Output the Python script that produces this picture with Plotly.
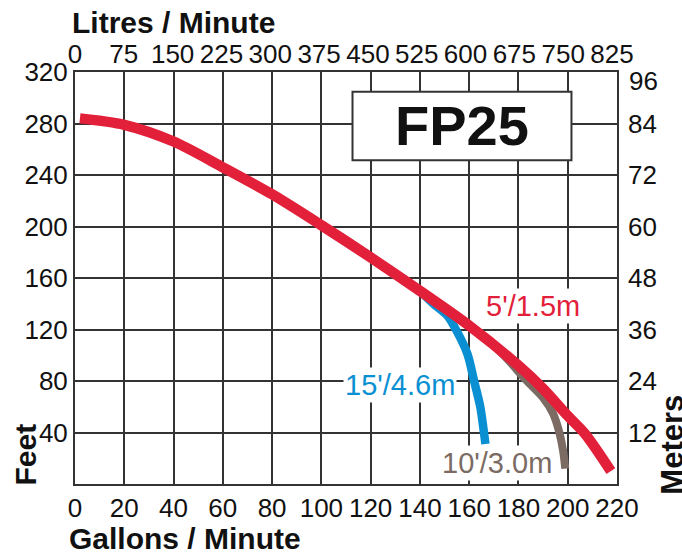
import plotly.graph_objects as go

# ---- data ----
gpm_ticks = list(range(0, 221, 20))          # Gallons / Minute (bottom)
lpm_ticks = list(range(0, 826, 75))          # Litres / Minute (top)
feet_ticks = list(range(40, 321, 40))        # Feet (left)
meter_ticks = list(range(12, 97, 12))        # Meters (right)
LITRES_PER_GALLON = 3.785

# 5'/1.5m curve
red_gpm = [2, 20, 40, 60, 80, 100, 120, 140, 160, 180, 190, 200, 207, 217.5]
red_ft = [284, 279, 266, 246, 225, 201, 176, 150, 123, 92, 74, 53, 39, 10]

# 15'/4.6m curve
blue_gpm = [140, 145.5, 151, 154.6, 159.3, 162, 164.5, 166, 166.6]
blue_ft = [150, 140, 131, 120, 101, 80, 60, 40, 31]

# 10'/3.0m curve
brown_gpm = [167, 172, 177, 181, 185, 190, 194, 196.6, 198.2, 199]
brown_ft = [113, 104, 94, 85, 77, 67, 55, 40, 25, 12]

RED = "#E3203A"
BLUE = "#0A90D2"
BROWN = "#7B6B63"
GRID = "#333333"

FONT = "Liberation Sans, Arial, sans-serif"

fig = go.Figure()
fig.add_trace(go.Scatter(x=blue_gpm, y=blue_ft, mode="lines",
                         line=dict(color=BLUE, width=8.5, shape="spline", smoothing=0.8),
                         hoverinfo="skip", showlegend=False))
fig.add_trace(go.Scatter(x=brown_gpm, y=brown_ft, mode="lines",
                         line=dict(color=BROWN, width=8, shape="spline", smoothing=0.8),
                         hoverinfo="skip", showlegend=False))
fig.add_trace(go.Scatter(x=red_gpm, y=red_ft, mode="lines",
                         line=dict(color=RED, width=10.5, shape="spline", smoothing=0.8),
                         hoverinfo="skip", showlegend=False))
# invisible trace so the secondary (Litres / Meters) axes are drawn
fig.add_trace(go.Scatter(x=[lpm_ticks[0], lpm_ticks[-1]], y=[0, meter_ticks[-1]],
                         xaxis="x2", yaxis="y2", mode="lines",
                         line=dict(width=0), opacity=0,
                         hoverinfo="skip", showlegend=False))

tickfont = dict(family=FONT, size=26, color="#111111")

fig.update_layout(
    width=682, height=552,
    margin=dict(l=75, r=65, t=72, b=68),
    paper_bgcolor="white", plot_bgcolor="white",
    showlegend=False,
    xaxis=dict(range=[0, 220], tickvals=gpm_ticks, ticktext=[str(v) for v in gpm_ticks],
               tickangle=0, showgrid=True, gridcolor=GRID, gridwidth=1.5,
               showline=True, linecolor=GRID, linewidth=2, mirror=True,
               zeroline=False, ticks="", tickfont=tickfont, fixedrange=True),
    yaxis=dict(range=[0, 320], tickvals=feet_ticks, ticktext=[str(v) for v in feet_ticks],
               showgrid=True, gridcolor=GRID, gridwidth=1.5,
               showline=True, linecolor=GRID, linewidth=2, mirror=True,
               zeroline=False, ticks="", tickfont=tickfont, fixedrange=True),
    xaxis2=dict(range=[0, 220 * LITRES_PER_GALLON], tickvals=lpm_ticks,
                ticktext=[str(v) for v in lpm_ticks],
                overlaying="x", side="top", anchor="y", tickangle=0,
                showgrid=False, showline=False, zeroline=False, ticks="",
                ticklabelstandoff=3,
                tickfont=tickfont, fixedrange=True),
    yaxis2=dict(range=[0, 96], tickvals=meter_ticks[:-1],
                ticktext=[str(v) for v in meter_ticks[:-1]],
                overlaying="y", side="right", anchor="x",
                showgrid=False, showline=False, zeroline=False, ticks="",
                ticklabelstandoff=10,
                tickfont=tickfont, fixedrange=True),
)

# top meter label sits a little lower in the original, clear of "825"
fig.add_annotation(text=str(meter_ticks[-1]), xref="paper", yref="y2",
                   x=1, y=meter_ticks[-1], xanchor="left", yanchor="middle",
                   xshift=10, yshift=-9, showarrow=False, font=tickfont)

# FP25 box
fig.add_shape(type="rect", xref="paper", yref="paper",
              x0=0.512, x1=0.916, y0=0.786, y1=0.952,
              fillcolor="white", line=dict(color=GRID, width=2), layer="above")
fig.add_annotation(text="<b>FP25</b>", xref="paper", yref="paper",
                   x=0.714, y=0.869, xanchor="center", yanchor="middle",
                   showarrow=False,
                   font=dict(family=FONT, size=56, color="#111111"))

# curve labels
lab_font = dict(family=FONT, size=29)
fig.add_annotation(text="5'/1.5m", x=186, y=138, showarrow=False,
                   xanchor="center", yanchor="middle",
                   bgcolor="white", borderpad=1,
                   font=dict(lab_font, color=RED))
fig.add_annotation(text="15'/4.6m", x=132, y=77, showarrow=False,
                   xanchor="center", yanchor="middle",
                   bgcolor="white", borderpad=1,
                   font=dict(lab_font, color=BLUE))
fig.add_annotation(text="10'/3.0m", x=171.4, y=16.3, showarrow=False,
                   xanchor="center", yanchor="middle",
                   bgcolor="white", borderpad=1,
                   font=dict(lab_font, color=BROWN))

# axis titles
title_font = dict(family=FONT, size=30, color="#111111")
fig.add_annotation(text="<b>Litres / Minute</b>", xref="paper", yref="paper",
                   x=-0.01, y=1.121, xanchor="left", yanchor="middle",
                   showarrow=False, font=title_font)
fig.add_annotation(text="<b>Gallons / Minute</b>", xref="paper", yref="paper",
                   x=-0.015, y=-0.132, xanchor="left", yanchor="middle",
                   showarrow=False, font=title_font)
fig.add_annotation(text="<b>Feet</b>", xref="paper", yref="paper",
                   x=-0.092, y=0.072, xanchor="center", yanchor="middle",
                   textangle=-90, showarrow=False, font=title_font)
fig.add_annotation(text="<b>Meters</b>", xref="paper", yref="paper",
                   x=1.103, y=0.095, xanchor="center", yanchor="middle",
                   textangle=-90, showarrow=False, font=dict(title_font, size=31))

fig.write_html("out.html",
               config={"displayModeBar": False},
               post_script="document.body.style.margin='0';document.body.style.overflow='hidden';")
